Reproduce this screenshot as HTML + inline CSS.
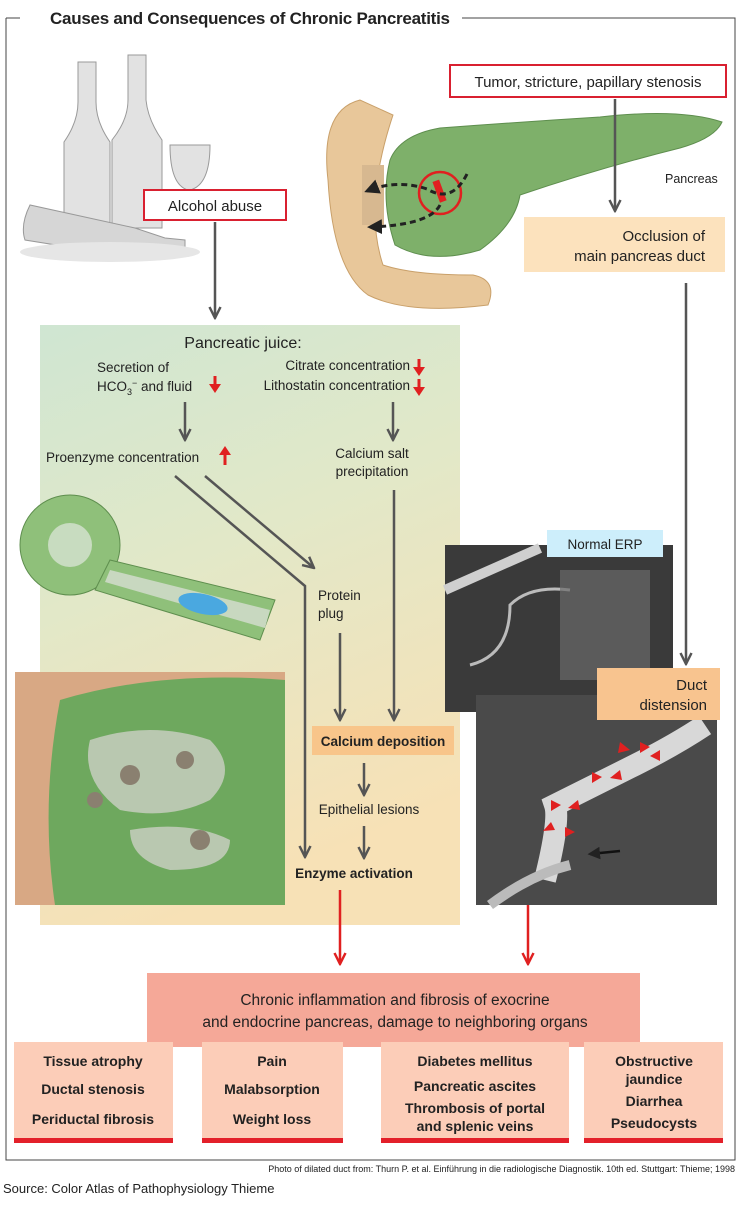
<!DOCTYPE html>
<html><head><meta charset="utf-8"><style>
body{margin:0;background:#fff;width:740px;height:1200px;overflow:hidden;font-family:"Liberation Sans",sans-serif}
svg text{font-family:"Liberation Sans",sans-serif;fill:#222}
</style></head><body>
<svg width="740" height="1200" viewBox="0 0 740 1200" xmlns="http://www.w3.org/2000/svg">
<defs>
<linearGradient id="gj" x1="0" y1="0" x2="0.3" y2="1">
<stop offset="0" stop-color="#cfe6d2"/><stop offset="0.45" stop-color="#e2e8c8"/><stop offset="1" stop-color="#f7e1b6"/></linearGradient>
<marker id="ag" viewBox="0 0 10 10" refX="9" refY="5" markerWidth="5.5" markerHeight="5.5" orient="auto"><path d="M1,1 L9,5 L1,9" fill="none" stroke="#555" stroke-width="1.8"/></marker>
<marker id="ar" viewBox="0 0 10 10" refX="9" refY="5" markerWidth="5.5" markerHeight="5.5" orient="auto"><path d="M1,1 L9,5 L1,9" fill="none" stroke="#e02020" stroke-width="1.8"/></marker>
<marker id="ad" viewBox="0 0 10 10" refX="8" refY="5" markerWidth="5" markerHeight="5" orient="auto"><path d="M0,0 L10,5 L0,10 z" fill="#222"/></marker>
</defs>
<path d="M6,18 H20 M462,18 H735 V1160 H6 V18" fill="none" stroke="#444" stroke-width="1"/>
<text x="50" y="24" font-size="17" font-weight="bold" fill="#222" textLength="400">Causes and Consequences of Chronic Pancreatitis</text>

<g fill="#e2e2e2" stroke="#999" stroke-width="1">
<path d="M78,62 h18 v40 q0,20 14,40 v90 h-46 v-90 q14,-20 14,-40z"/>
<path d="M128,55 h18 v45 q2,20 16,40 v88 h-50 v-88 q16,-20 16,-40z"/>
<path d="M170,145 h40 q0,40 -20,45 v28 h-2 v-28 q-18,-5 -18,-45z"/>
<path d="M30,205 q-10,20 -5,35 l100,16 h40 l20,-2 l0,-14 l-20,-2 l-30,-10 z" fill="#d6d6d6"/>
</g>
<ellipse cx="110" cy="252" rx="90" ry="10" fill="#e6e6e6"/>
<rect x="144" y="190" width="142" height="30" fill="#fff" stroke="#d92030" stroke-width="2"/>
<text x="215" y="211" font-size="15" text-anchor="middle">Alcohol abuse</text>
<line x1="215" y1="222" x2="215" y2="318" stroke="#555" stroke-width="2.5" marker-end="url(#ag)"/>

<path d="M360,100 q-40,10 -32,80 q5,90 40,115 q40,20 120,10 q10,-25 -15,-30 q-60,0 -90,-10 q-20,-60 10,-150z" fill="#e8c79a" stroke="#c9a06a"/>
<path d="M390,160 Q400,135 440,128 Q520,122 600,117 Q680,108 722,122 Q715,138 680,148 Q600,168 520,195 Q515,225 480,250 Q430,265 395,245 Q380,200 390,160z" fill="#7eb06a" stroke="#5e8e4e"/>
<rect x="362" y="165" width="22" height="60" fill="#d7b890"/>
<circle cx="440" cy="193" r="21" fill="none" stroke="#e02020" stroke-width="2.5"/>
<rect x="436" y="180" width="7" height="22" fill="#e02020" transform="rotate(-20 440 191)"/>
<path d="M467,174 q-15,30 -40,15 q-30,-10 -60,2" fill="none" stroke="#222" stroke-width="3" stroke-dasharray="6,4" marker-end="url(#ad)"/>
<path d="M440,205 q-10,20 -70,22" fill="none" stroke="#222" stroke-width="3" stroke-dasharray="6,4" marker-end="url(#ad)"/>
<text x="665" y="183" font-size="12.5">Pancreas</text>
<rect x="450" y="65" width="276" height="32" fill="#fff" stroke="#d92030" stroke-width="2"/>
<text x="588" y="87" font-size="15" text-anchor="middle">Tumor, stricture, papillary stenosis</text>
<line x1="615" y1="99" x2="615" y2="211" stroke="#555" stroke-width="2.5" marker-end="url(#ag)"/>
<rect x="524" y="217" width="201" height="55" fill="#fce2bd"/>
<text x="705" y="241" font-size="15" text-anchor="end">Occlusion of</text>
<text x="705" y="261" font-size="15" text-anchor="end">main pancreas duct</text>
<line x1="686" y1="283" x2="686" y2="664" stroke="#555" stroke-width="2.5" marker-end="url(#ag)"/>

<rect x="40" y="325" width="420" height="600" fill="url(#gj)"/>
<text x="243" y="348" font-size="16" text-anchor="middle">Pancreatic juice:</text>
<text x="97" y="372" font-size="13.5">Secretion of</text>
<text x="97" y="391" font-size="13.5">HCO<tspan font-size="9" dy="4">3</tspan><tspan font-size="9" dy="-9">−</tspan><tspan dy="5"> and fluid</tspan></text>
<text x="410" y="370" font-size="13.5" text-anchor="end">Citrate concentration</text>
<text x="410" y="390" font-size="13.5" text-anchor="end">Lithostatin concentration</text>
<g stroke="#e02020" stroke-width="3" fill="#e02020">
<line x1="215" y1="376" x2="215" y2="386"/><path d="M209,384 L215,393 L221,384z" stroke="none"/>
<line x1="419" y1="359" x2="419" y2="369"/><path d="M413,367 L419,376 L425,367z" stroke="none"/>
<line x1="419" y1="379" x2="419" y2="389"/><path d="M413,387 L419,396 L425,387z" stroke="none"/>
<line x1="225" y1="453" x2="225" y2="465"/><path d="M219,455 L225,446 L231,455z" stroke="none"/>
</g>
<line x1="185" y1="402" x2="185" y2="440" stroke="#555" stroke-width="2.5" marker-end="url(#ag)"/>
<line x1="393" y1="402" x2="393" y2="440" stroke="#555" stroke-width="2.5" marker-end="url(#ag)"/>
<text x="46" y="462" font-size="13.5">Proenzyme concentration</text>
<text x="372" y="458" font-size="13.5" text-anchor="middle">Calcium salt</text>
<text x="372" y="476" font-size="13.5" text-anchor="middle">precipitation</text>
<polyline points="175,476 305,586 305,857" fill="none" stroke="#555" stroke-width="2.5" marker-end="url(#ag)"/>
<line x1="205" y1="476" x2="314" y2="568" stroke="#555" stroke-width="2.5" marker-end="url(#ag)"/>
<text x="318" y="600" font-size="13.5">Protein</text>
<text x="318" y="618" font-size="13.5">plug</text>
<line x1="340" y1="633" x2="340" y2="720" stroke="#555" stroke-width="2.5" marker-end="url(#ag)"/>
<line x1="394" y1="490" x2="394" y2="720" stroke="#555" stroke-width="2.5" marker-end="url(#ag)"/>
<rect x="312" y="726" width="142" height="29" fill="#f8c58a"/>
<text x="383" y="746" font-size="13.5" font-weight="bold" text-anchor="middle">Calcium deposition</text>
<line x1="364" y1="763" x2="364" y2="795" stroke="#555" stroke-width="2.5" marker-end="url(#ag)"/>
<text x="369" y="814" font-size="13.5" text-anchor="middle">Epithelial lesions</text>
<line x1="364" y1="826" x2="364" y2="858" stroke="#555" stroke-width="2.5" marker-end="url(#ag)"/>
<text x="354" y="878" font-size="13.5" font-weight="bold" text-anchor="middle">Enzyme activation</text>

<circle cx="70" cy="545" r="50" fill="#8fc07a" stroke="#5e8e4e"/>
<circle cx="70" cy="545" r="22" fill="#c8dcc0"/>
<path d="M110,560 L275,600 L260,640 L95,590z" fill="#8fc07a" stroke="#5e8e4e"/>
<path d="M110,570 L270,610 L265,628 L105,582z" fill="#c8d8c0"/>
<ellipse cx="203" cy="604" rx="25" ry="10" fill="#4aa8e0" transform="rotate(12 203 604)"/>

<rect x="15" y="672" width="270" height="233" fill="#d8a884"/>
<path d="M60,700 q100,-30 225,-20 v225 h-230 q-15,-100 5,-205z" fill="#6ea85e"/>
<g fill="#b9c8b0"><path d="M90,740 q60,-20 120,0 q30,30 0,60 q-40,20 -90,10 q-40,-30 -30,-70z"/><path d="M130,830 q60,-10 100,10 q0,30 -60,30 q-40,-10 -40,-40z"/></g>
<g fill="#8a8070"><circle cx="130" cy="775" r="10"/><circle cx="185" cy="760" r="9"/><circle cx="200" cy="840" r="10"/><circle cx="95" cy="800" r="8"/></g>

<rect x="445" y="545" width="228" height="167" fill="#3a3a3a"/>
<path d="M445,590 L540,548" stroke="#cfcfcf" stroke-width="10"/>
<path d="M470,665 q40,-10 40,-60 q20,-20 60,-15" fill="none" stroke="#bbb" stroke-width="3"/>
<rect x="560" y="570" width="90" height="110" fill="#6a6a6a" opacity=".7"/>
<rect x="547" y="530" width="116" height="27" fill="#cdeefb"/>
<text x="605" y="549" font-size="13.5" text-anchor="middle">Normal ERP</text>
<rect x="476" y="695" width="241" height="210" fill="#4a4a4a"/>
<path d="M545,880 q15,-60 10,-75 q40,-20 80,-40 q40,-20 70,-40" fill="none" stroke="#d8d8d8" stroke-width="22"/>
<path d="M490,905 q40,-30 80,-40" fill="none" stroke="#bbb" stroke-width="10"/>
<g fill="#e02020">
<path d="M620,742 l10,8 l-12,3z"/><path d="M640,742 l10,5 l-10,6z"/><path d="M660,750 l0,11 l-10,-5z"/>
<path d="M592,772 l10,5 l-10,6z"/><path d="M620,770 l-10,8 l12,2z"/>
<path d="M551,800 l10,5 l-10,6z"/><path d="M578,800 l-10,8 l12,2z"/>
<path d="M551,822 l-8,9 l12,-1z"/><path d="M565,827 l10,5 l-10,5z"/>
</g>
<line x1="620" y1="851" x2="590" y2="854" stroke="#111" stroke-width="2.5" marker-end="url(#ad)"/>
<rect x="597" y="668" width="123" height="52" fill="#f8c48f"/>
<text x="707" y="690" font-size="15" text-anchor="end">Duct</text>
<text x="707" y="710" font-size="15" text-anchor="end">distension</text>

<line x1="340" y1="890" x2="340" y2="964" stroke="#e02020" stroke-width="2.5" marker-end="url(#ar)"/>
<line x1="528" y1="905" x2="528" y2="964" stroke="#e02020" stroke-width="2.5" marker-end="url(#ar)"/>

<rect x="147" y="973" width="493" height="74" fill="#f5a898"/>
<text x="395" y="1005" font-size="15.5" text-anchor="middle">Chronic inflammation and fibrosis of exocrine</text>
<text x="395" y="1027" font-size="15.5" text-anchor="middle">and endocrine pancreas, damage to neighboring organs</text>
<g fill="#fccdb8"><rect x="14" y="1042" width="159" height="96"/><rect x="202" y="1042" width="141" height="96"/><rect x="381" y="1042" width="188" height="96"/><rect x="584" y="1042" width="139" height="96"/></g>
<g fill="#e3202a"><rect x="14" y="1138" width="159" height="5"/><rect x="202" y="1138" width="141" height="5"/><rect x="381" y="1138" width="188" height="5"/><rect x="584" y="1138" width="139" height="5"/></g>
<g font-size="14" font-weight="bold" text-anchor="middle">
<text x="93" y="1066">Tissue atrophy</text><text x="93" y="1094">Ductal stenosis</text><text x="93" y="1124">Periductal fibrosis</text>
<text x="272" y="1066">Pain</text><text x="272" y="1094">Malabsorption</text><text x="272" y="1124">Weight loss</text>
<text x="475" y="1066">Diabetes mellitus</text><text x="475" y="1091">Pancreatic ascites</text><text x="475" y="1113">Thrombosis of portal</text><text x="475" y="1131">and splenic veins</text>
<text x="654" y="1066">Obstructive</text><text x="654" y="1084">jaundice</text><text x="654" y="1106">Diarrhea</text><text x="654" y="1128">Pseudocysts</text>
</g>
<text x="735" y="1172" font-size="9" text-anchor="end">Photo of dilated duct from: Thurn P. et al. Einführung in die radiologische Diagnostik. 10th ed. Stuttgart: Thieme; 1998</text>
<text x="3" y="1193" font-size="13">Source: Color Atlas of Pathophysiology Thieme</text>
</svg>
</body></html>
